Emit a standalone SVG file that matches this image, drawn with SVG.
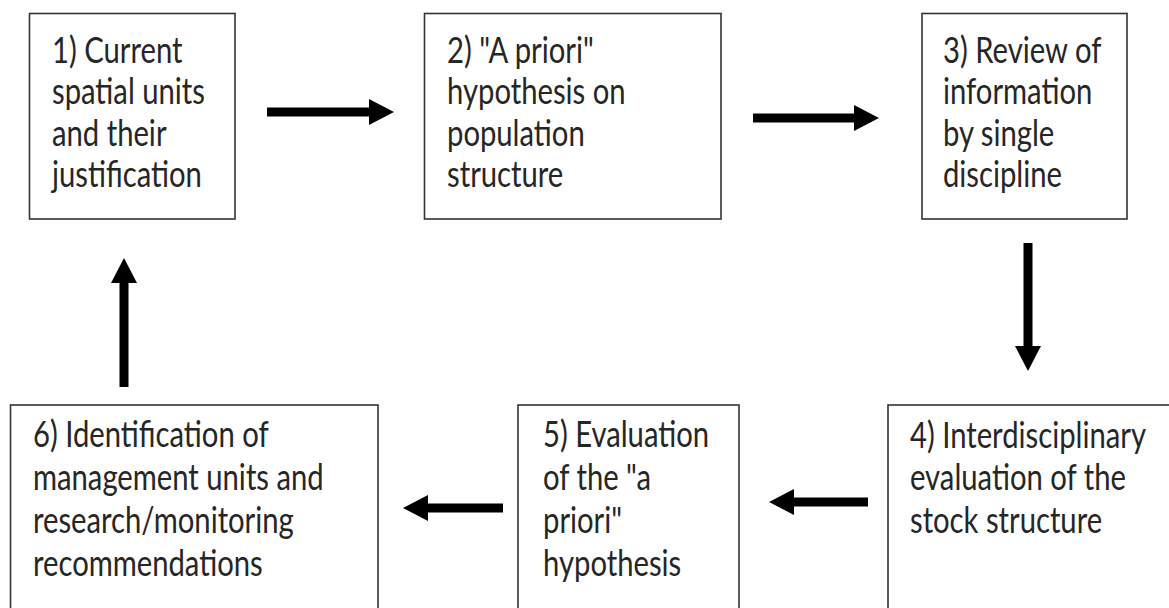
<svg xmlns="http://www.w3.org/2000/svg" width="1169" height="608" viewBox="0 0 1169 608">
<defs>
<marker id="ah" markerUnits="userSpaceOnUse" markerWidth="26" markerHeight="26" viewBox="0 0 26 26" refX="0" refY="13" orient="auto">
<path d="M0,0 L25,13 L0,26 z" fill="#000"/>
</marker>
<style>
.box{fill:#fff;stroke:#333;stroke-width:1.6}
.lbl{font-family:Lato,"Open Sans","Liberation Sans",sans-serif;font-size:37px;fill:#262626}
.arr{stroke:#000;stroke-width:9;fill:none;marker-end:url(#ah)}
</style>
</defs>
<rect width="1169" height="608" fill="#fff"/>
<g id="connectors">
<path class="arr" d="M267,112 H369"/>
<path class="arr" d="M753,118 H854"/>
<path class="arr" d="M1028,243 V346"/>
<path class="arr" d="M868,502 H794"/>
<path class="arr" d="M503,508 H428"/>
<path class="arr" d="M124,387 V283"/>
</g>
<g id="n1">
<rect class="box" x="29.5" y="13.5" width="205.5" height="205.5"/>
<text class="lbl" transform="translate(52,63) scale(0.79,1)"><tspan x="0" y="0">1) Current</tspan><tspan x="0" y="41.3">spatial units</tspan><tspan x="0" y="82.6">and their</tspan><tspan x="0" y="124">justification</tspan></text>
</g>
<g id="n2">
<rect class="box" x="424.5" y="13.5" width="296.5" height="205.5"/>
<text class="lbl" transform="translate(447,63) scale(0.79,1)"><tspan x="0" y="0">2) "A priori"</tspan><tspan x="0" y="41.3">hypothesis on</tspan><tspan x="0" y="82.6">population</tspan><tspan x="0" y="124">structure</tspan></text>
</g>
<g id="n3">
<rect class="box" x="922" y="13.5" width="205" height="205.5"/>
<text class="lbl" transform="translate(943,63) scale(0.79,1)"><tspan x="0" y="0">3) Review of</tspan><tspan x="0" y="41.3">information</tspan><tspan x="0" y="82.6">by single</tspan><tspan x="0" y="124">discipline</tspan></text>
</g>
<g id="n4">
<rect class="box" x="888" y="405" width="320" height="230"/>
<text class="lbl" transform="translate(910,448) scale(0.79,1)"><tspan x="0" y="0">4) Interdisciplinary</tspan><tspan x="0" y="42.5">evaluation of the</tspan><tspan x="0" y="85">stock structure</tspan></text>
</g>
<g id="n5">
<rect class="box" x="518" y="405" width="221" height="230"/>
<text class="lbl" transform="translate(543,447) scale(0.79,1)"><tspan x="0" y="0">5) Evaluation</tspan><tspan x="0" y="43">of the "a</tspan><tspan x="0" y="86">priori"</tspan><tspan x="0" y="129">hypothesis</tspan></text>
</g>
<g id="n6">
<rect class="box" x="10.5" y="405" width="367.5" height="230"/>
<text class="lbl" transform="translate(33,447) scale(0.79,1)"><tspan x="0" y="0">6) Identification of</tspan><tspan x="0" y="43">management units and</tspan><tspan x="0" y="86">research/monitoring</tspan><tspan x="0" y="129">recommendations</tspan></text>
</g>
</svg>
